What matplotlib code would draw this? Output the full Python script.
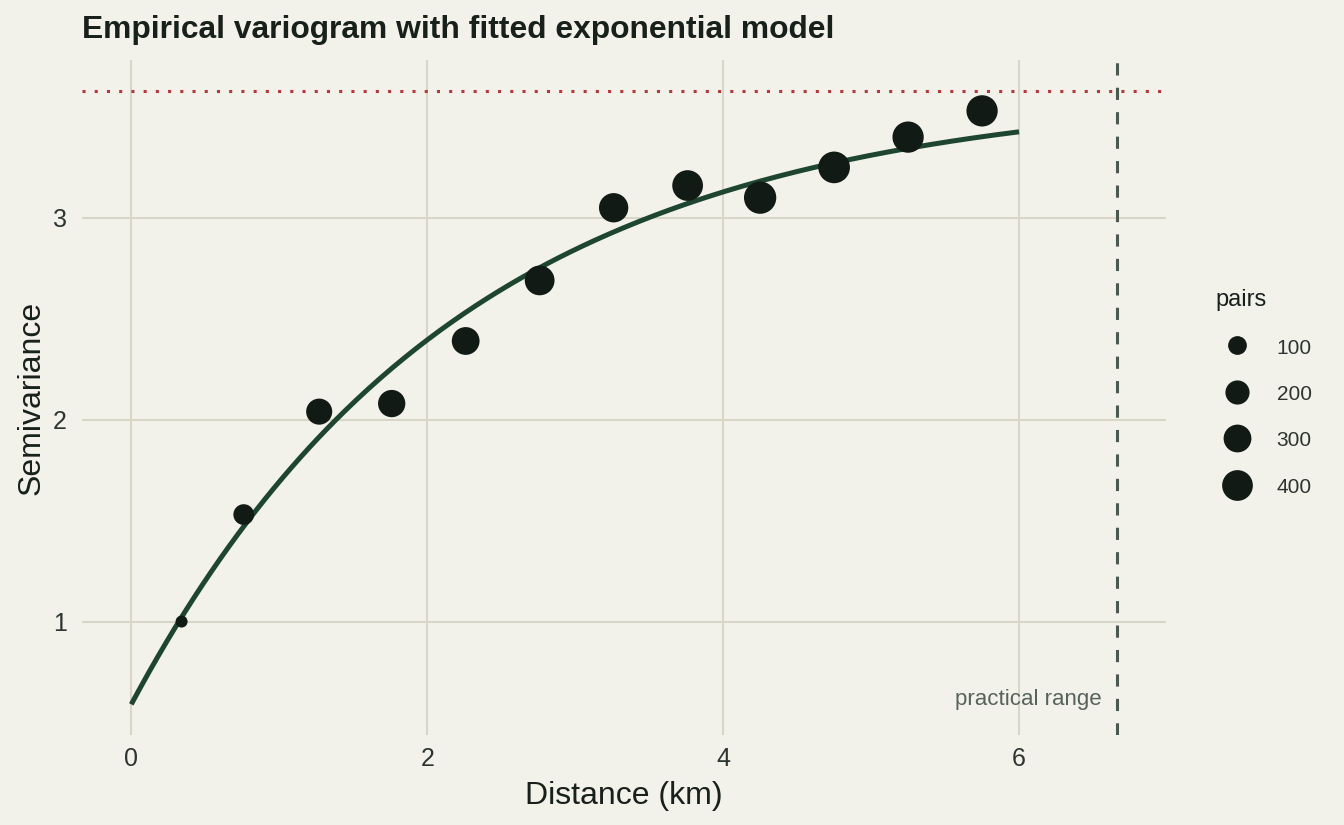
import numpy as np
import matplotlib
matplotlib.use("Agg")
import matplotlib.pyplot as plt
from matplotlib.lines import Line2D

# ---- data ----
distance = [0.34, 0.76, 1.27, 1.76, 2.26, 2.76, 3.26, 3.76, 4.25, 4.75, 5.25, 5.75]
semivariance = [1.00, 1.53, 2.04, 2.08, 2.39, 2.69, 3.05, 3.16, 3.10, 3.25, 3.40, 3.53]
pairs = [55, 130, 250, 285, 300, 365, 350, 400, 460, 435, 420, 420]
legend_pairs = [100, 200, 300, 400]

# fitted exponential model parameters
nugget = 0.59
sill = 3.63
practical_range = 6.66
model_max_distance = 6.0

x_ticks = [0, 2, 4, 6]
y_ticks = [1, 2, 3]

title = "Empirical variogram with fitted exponential model"
x_title = "Distance (km)"
y_title = "Semivariance"
legend_title = "pairs"
range_label = "practical range"

# ---- style ----
BG = "#F2F1EA"
GRID = "#D7D6C7"
POINT = "#111A15"
CURVE = "#1E4530"
SILL_C = "#B5383D"
RANGE_C = "#4B5A51"
TEXT = "#17201A"
TICK = "#2E3531"
NOTE = "#56635A"

DPI = 100
PX = 72.0 / DPI  # points per pixel

plt.rcParams["font.family"] = ["Liberation Sans", "DejaVu Sans"]

D_MIN, D_MAX = 12.0, 32.3  # point diameters in px
vmin, vmax = min(pairs), max(pairs)


def diam_px(v):
    return D_MIN + (D_MAX - D_MIN) * np.sqrt((np.asarray(v, float) - vmin) / (vmax - vmin))


fig = plt.figure(figsize=(1344 / DPI, 825 / DPI), dpi=DPI, facecolor=BG)
L, R, B, T = 82 / 1344, 1166 / 1344, 1 - 735 / 825, 1 - 60 / 825
ax = fig.add_axes([L, B, R - L, T - B], facecolor=BG)

# limits with 5% expansion like ggplot
x0, x1 = 0.0, practical_range
y0, y1 = nugget, sill
ax.set_xlim(x0 - 0.05 * (x1 - x0), x1 + 0.05 * (x1 - x0))
ax.set_ylim(y0 - 0.05 * (y1 - y0), y1 + 0.05 * (y1 - y0))

ax.set_xticks(x_ticks)
ax.set_yticks(y_ticks)
ax.set_xticklabels([str(t) for t in x_ticks])
ax.set_yticklabels([str(t) for t in y_ticks])
ax.grid(True, color=GRID, linewidth=1.45, zorder=0)
ax.set_axisbelow(True)
for s in ax.spines.values():
    s.set_visible(False)
ax.tick_params(length=0, labelsize=18, colors=TICK)
ax.tick_params(axis="x", pad=8.7)
ax.tick_params(axis="y", pad=11)

# sill and practical range reference lines
ax.axhline(sill, color=SILL_C, linewidth=2.2, linestyle=(0, (1, 3)), zorder=2)
ax.axvline(practical_range, color=RANGE_C, linewidth=2.2, linestyle=(0, (4, 4)), zorder=2)

# fitted model curve
h = np.linspace(0, model_max_distance, 300)
gamma = nugget + (sill - nugget) * (1 - np.exp(-3 * h / practical_range))
ax.plot(h, gamma, color=CURVE, linewidth=3.6, solid_capstyle="butt", zorder=3)

# empirical points
ax.scatter(distance, semivariance, s=(diam_px(pairs) * PX) ** 2, color=POINT,
           linewidths=0, zorder=4)

ax.text(practical_range - 0.105, 0.612, range_label, ha="right", va="center",
        fontsize=16, color=NOTE, zorder=5)

ax.set_xlabel(x_title, fontsize=23, color=TEXT)
ax.set_ylabel(y_title, fontsize=23, color=TEXT)
ax.xaxis.set_label_coords(0.5, -0.068)
ax.yaxis.set_label_coords(-0.0326, 0.5)

fig.text(82 / 1344, 1 - 38 / 825, title, fontsize=22.9, fontweight="bold",
         color=TEXT, ha="left", va="baseline")

handles = [Line2D([], [], linestyle="", marker="o", markersize=float(diam_px(v)) * PX,
                  markerfacecolor=POINT, markeredgewidth=0, color=POINT)
           for v in legend_pairs]
leg = fig.legend(handles, [str(v) for v in legend_pairs], title=legend_title,
                 loc="upper left", bbox_to_anchor=(1215 / 1344, 1 - 289 / 825),
                 frameon=False, fontsize=15, title_fontsize=17, borderpad=0,
                 borderaxespad=0, handlelength=2.14, handleheight=1.0,
                 handletextpad=0.82, labelspacing=1.25, alignment="left")
leg.get_title().set_color(TEXT)
for t in leg.get_texts():
    t.set_color(TICK)

fig.savefig("out.png", dpi=DPI, facecolor=BG)
